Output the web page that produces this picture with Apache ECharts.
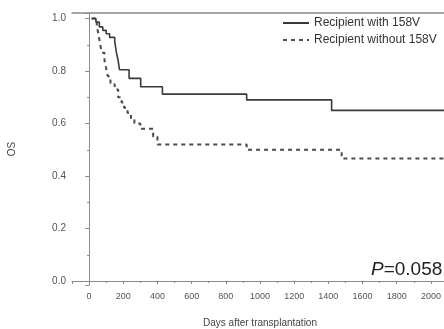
<!DOCTYPE html>
<html>
<head>
<meta charset="utf-8">
<script src="https://cdn.jsdelivr.net/npm/echarts@6/dist/echarts.min.js"></script>
<style>html,body{margin:0;padding:0;background:#fff;}#c{width:444px;height:329px;}</style>
</head>
<body>
<div id="c"></div>
<script>
var seriesNames = ['Recipient with 158V', 'Recipient without 158V'];
var solidDays = [15, 40, 60, 80, 100, 120, 150, 160, 170, 178, 234, 302, 429, 922, 1419, 2100];
var solidOS   = [1.0, 0.987, 0.968, 0.955, 0.942, 0.928, 0.912, 0.87, 0.84, 0.805, 0.772, 0.740, 0.712, 0.690, 0.650, 0.650];
var dashedDays = [15, 45, 55, 65, 75, 90, 100, 110, 125, 150, 170, 190, 205, 225, 245, 265, 300, 375, 400, 922, 1478, 2100];
var dashedOS   = [1.0, 0.97, 0.94, 0.90, 0.87, 0.84, 0.81, 0.78, 0.75, 0.73, 0.70, 0.68, 0.66, 0.64, 0.62, 0.60, 0.58, 0.55, 0.52, 0.50, 0.467, 0.467];
var xTickLabels = ['0','200','400','600','800','1000','1200','1400','1600','1800','2000'];
var yTickLabels = ['0.0','0.2','0.4','0.6','0.8','1.0'];
var xName = 'Days after transplantation';
var yName = 'OS';
var pText = 'P=0.058';

function pairs(xs, ys){ return xs.map(function(x,i){ return [x, ys[i]]; }); }

var chart = echarts.init(document.getElementById('c'), null, {renderer:'canvas'});
var axisCol = '#8a8a8a';
chart.setOption({
  backgroundColor: '#ffffff',
  animation: false,
  title: {
    text: '{i|' + pText.charAt(0) + '}{n|' + pText.slice(1) + '}',
    left: 366, top: 255,
    textStyle: {
      fontWeight: 'normal',
      rich: {
        i: {fontStyle: 'italic', fontWeight: 'normal', fontSize: 19, color: '#222', fontFamily: 'Liberation Sans'},
        n: {fontWeight: 'normal', fontSize: 19, color: '#222', fontFamily: 'Liberation Sans'}
      }
    }
  },
  legend: {
    orient: 'vertical',
    left: 277, top: 12,
    itemWidth: 26, itemHeight: 11, itemGap: 5,
    itemStyle: {opacity: 0},
    textStyle: {fontSize: 12, color: '#333', fontFamily: 'Liberation Sans'},
    data: seriesNames
  },
  grid: {left: 72, top: 13, width: 376, height: 272, outerBoundsMode: 'none', containLabel: false},
  xAxis: [{
    type: 'value', min: -100, max: 2100, splitNumber: 11,
    name: xName, nameLocation: 'middle', nameGap: 33,
    nameTextStyle: {fontSize: 10, color: '#444', fontFamily: 'Liberation Sans'},
    axisLine: {lineStyle: {color: axisCol, width: 1}},
    axisTick: {show: true, inside: false, length: 3, lineStyle: {color: axisCol}},
    minorTick: {show: true, splitNumber: 2, length: 2, lineStyle: {color: axisCol}},
    axisLabel: {fontSize: 9, color: '#555', margin: 7, showMinLabel: false, showMaxLabel: false, fontFamily: 'Liberation Sans',
      formatter: function(v){ var k = xTickLabels.indexOf(String(v)); return k >= 0 ? xTickLabels[k] : ''; }},
    splitLine: {show: false}
  }, {
    type: 'value', min: -100, max: 2100, position: 'top',
    axisLine: {show: true, onZero: false, lineStyle: {color: axisCol, width: 1.5}},
    axisTick: {show: false}, axisLabel: {show: false}, splitLine: {show: false}
  }],
  yAxis: {
    type: 'value', min: -0.015, max: 1.021, splitNumber: 5,
    name: yName, nameLocation: 'middle', nameGap: 55, nameRotate: 90,
    nameTextStyle: {fontSize: 10, color: '#444', fontFamily: 'Liberation Sans'},
    axisLine: {show: true, lineStyle: {color: axisCol, width: 1}},
    axisTick: {show: true, inside: false, length: 4, lineStyle: {color: axisCol}},
    minorTick: {show: true, splitNumber: 2, length: 2, lineStyle: {color: axisCol}},
    axisLabel: {fontSize: 10, color: '#555', margin: 6, showMinLabel: false, showMaxLabel: false, fontFamily: 'Liberation Sans',
      formatter: function(v){ var s = v.toFixed(1); return yTickLabels.indexOf(s) >= 0 ? s : ''; }},
    splitLine: {show: false}
  },
  series: [{
    name: seriesNames[1], type: 'line', step: 'end', symbol: 'none', z: 2,
    data: pairs(dashedDays, dashedOS),
    lineStyle: {color: '#4a4a4a', width: 2, type: [4, 4]},
    itemStyle: {color: '#4a4a4a'}
  }, {
    name: seriesNames[0], type: 'line', step: 'end', symbol: 'none', z: 3,
    data: pairs(solidDays, solidOS),
    lineStyle: {color: '#3a3a3a', width: 1.6, type: 'solid'},
    itemStyle: {color: '#3a3a3a'}
  }]
});
</script>
</body>
</html>
